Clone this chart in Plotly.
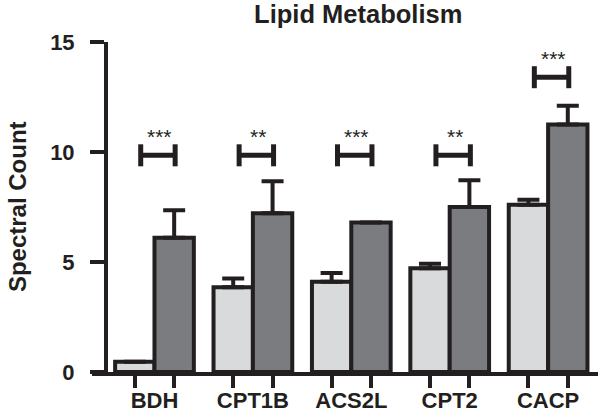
import plotly.graph_objects as go

# ---- data ----
categories = ["BDH", "CPT1B", "ACS2L", "CPT2", "CACP"]
control_vals = [0.47, 3.85, 4.1, 4.72, 7.6]
control_err = [0.0, 0.4, 0.4, 0.2, 0.23]
treated_vals = [6.1, 7.22, 6.8, 7.5, 11.25]
treated_err = [1.25, 1.45, 0.0, 1.22, 0.85]
sig_labels = ["***", "**", "***", "**", "***"]
sig_levels = [9.85, 9.85, 9.85, 9.85, 13.4]
y_ticks = [0, 5, 10, 15]

INK = "#231f20"
FONT = "Liberation Sans, Arial, sans-serif"
xs = list(range(len(categories)))

fig = go.Figure()
fig.add_trace(go.Bar(
    x=xs, y=control_vals, marker=dict(color="#d9dadc", line=dict(color=INK, width=4)),
    error_y=dict(type="data", array=control_err, symmetric=False,
                 arrayminus=[0] * len(control_err), thickness=4, width=11, color=INK),
    showlegend=False, hoverinfo="skip"))
fig.add_trace(go.Bar(
    x=xs, y=treated_vals, marker=dict(color="#7b7c80", line=dict(color=INK, width=4)),
    error_y=dict(type="data", array=treated_err, symmetric=False,
                 arrayminus=[0] * len(treated_err), thickness=4, width=11, color=INK),
    showlegend=False, hoverinfo="skip"))

bar_offset = 0.2
shapes = []
annotations = []
for i, (lab, lvl) in enumerate(zip(sig_labels, sig_levels)):
    x0, x1 = i - 0.14, i + 0.21
    h = 0.5
    for (a, b, c, d) in [(x0, lvl, x1, lvl), (x0, lvl - h, x0, lvl + h), (x1, lvl - h, x1, lvl + h)]:
        shapes.append(dict(type="line", xref="x", yref="y", x0=a, y0=b, x1=c, y1=d,
                           line=dict(color=INK, width=5)))
    annotations.append(dict(x=(x0 + x1) / 2 + 0.02, y=lvl, xref="x", yref="y", text=lab,
                            showarrow=False, yshift=19,
                            font=dict(family=FONT, size=21, color=INK)))

annotations.append(dict(x=-0.148, y=0.5, xref="paper", yref="paper", text="<b>Spectral Count</b>",
                        textangle=-90, showarrow=False, xanchor="center", yanchor="middle",
                        font=dict(family=FONT, size=24, color=INK)))

minor_vals = []
for i in xs:
    minor_vals += [i - bar_offset, i + bar_offset]

fig.update_layout(
    width=600, height=419,
    margin=dict(l=92, r=2, t=42, b=47, autoexpand=False),
    plot_bgcolor="white", paper_bgcolor="white",
    barmode="group", bargap=0.2, bargroupgap=0,
    title=dict(text="<b>Lipid Metabolism</b>", x=0.597, xanchor="center",
               y=0.966, yanchor="middle", font=dict(family=FONT, size=25.5, color=INK)),
    shapes=shapes, annotations=annotations,
    xaxis=dict(range=[-0.635, 4.507], tickvals=xs,
               ticktext=["<b>%s</b>" % c for c in categories],
               ticks="outside", ticklen=6, tickwidth=4, tickcolor="rgba(0,0,0,0)",
               showline=True, linewidth=4, linecolor=INK, showgrid=False, zeroline=False,
               automargin=False,
               tickfont=dict(family=FONT, size=22, color=INK),
               minor=dict(tickvals=minor_vals, ticks="outside", ticklen=12, tickwidth=4,
                          tickcolor=INK, showgrid=False)),
    yaxis=dict(range=[0, 15], tickvals=y_ticks, ticktext=["<b>%d</b>" % v for v in y_ticks],
               anchor="free", position=0.0277, automargin=False,
               ticks="outside", ticklen=14, tickwidth=4, tickcolor=INK,
               ticklabelstandoff=11,
               showline=True, linewidth=4, linecolor=INK, showgrid=False, zeroline=False,
               tickfont=dict(family=FONT, size=22, color=INK)),
)

fig.write_html("out.html", config={"displayModeBar": False},
               post_script="document.body.style.margin='0';document.body.style.padding='0';")
